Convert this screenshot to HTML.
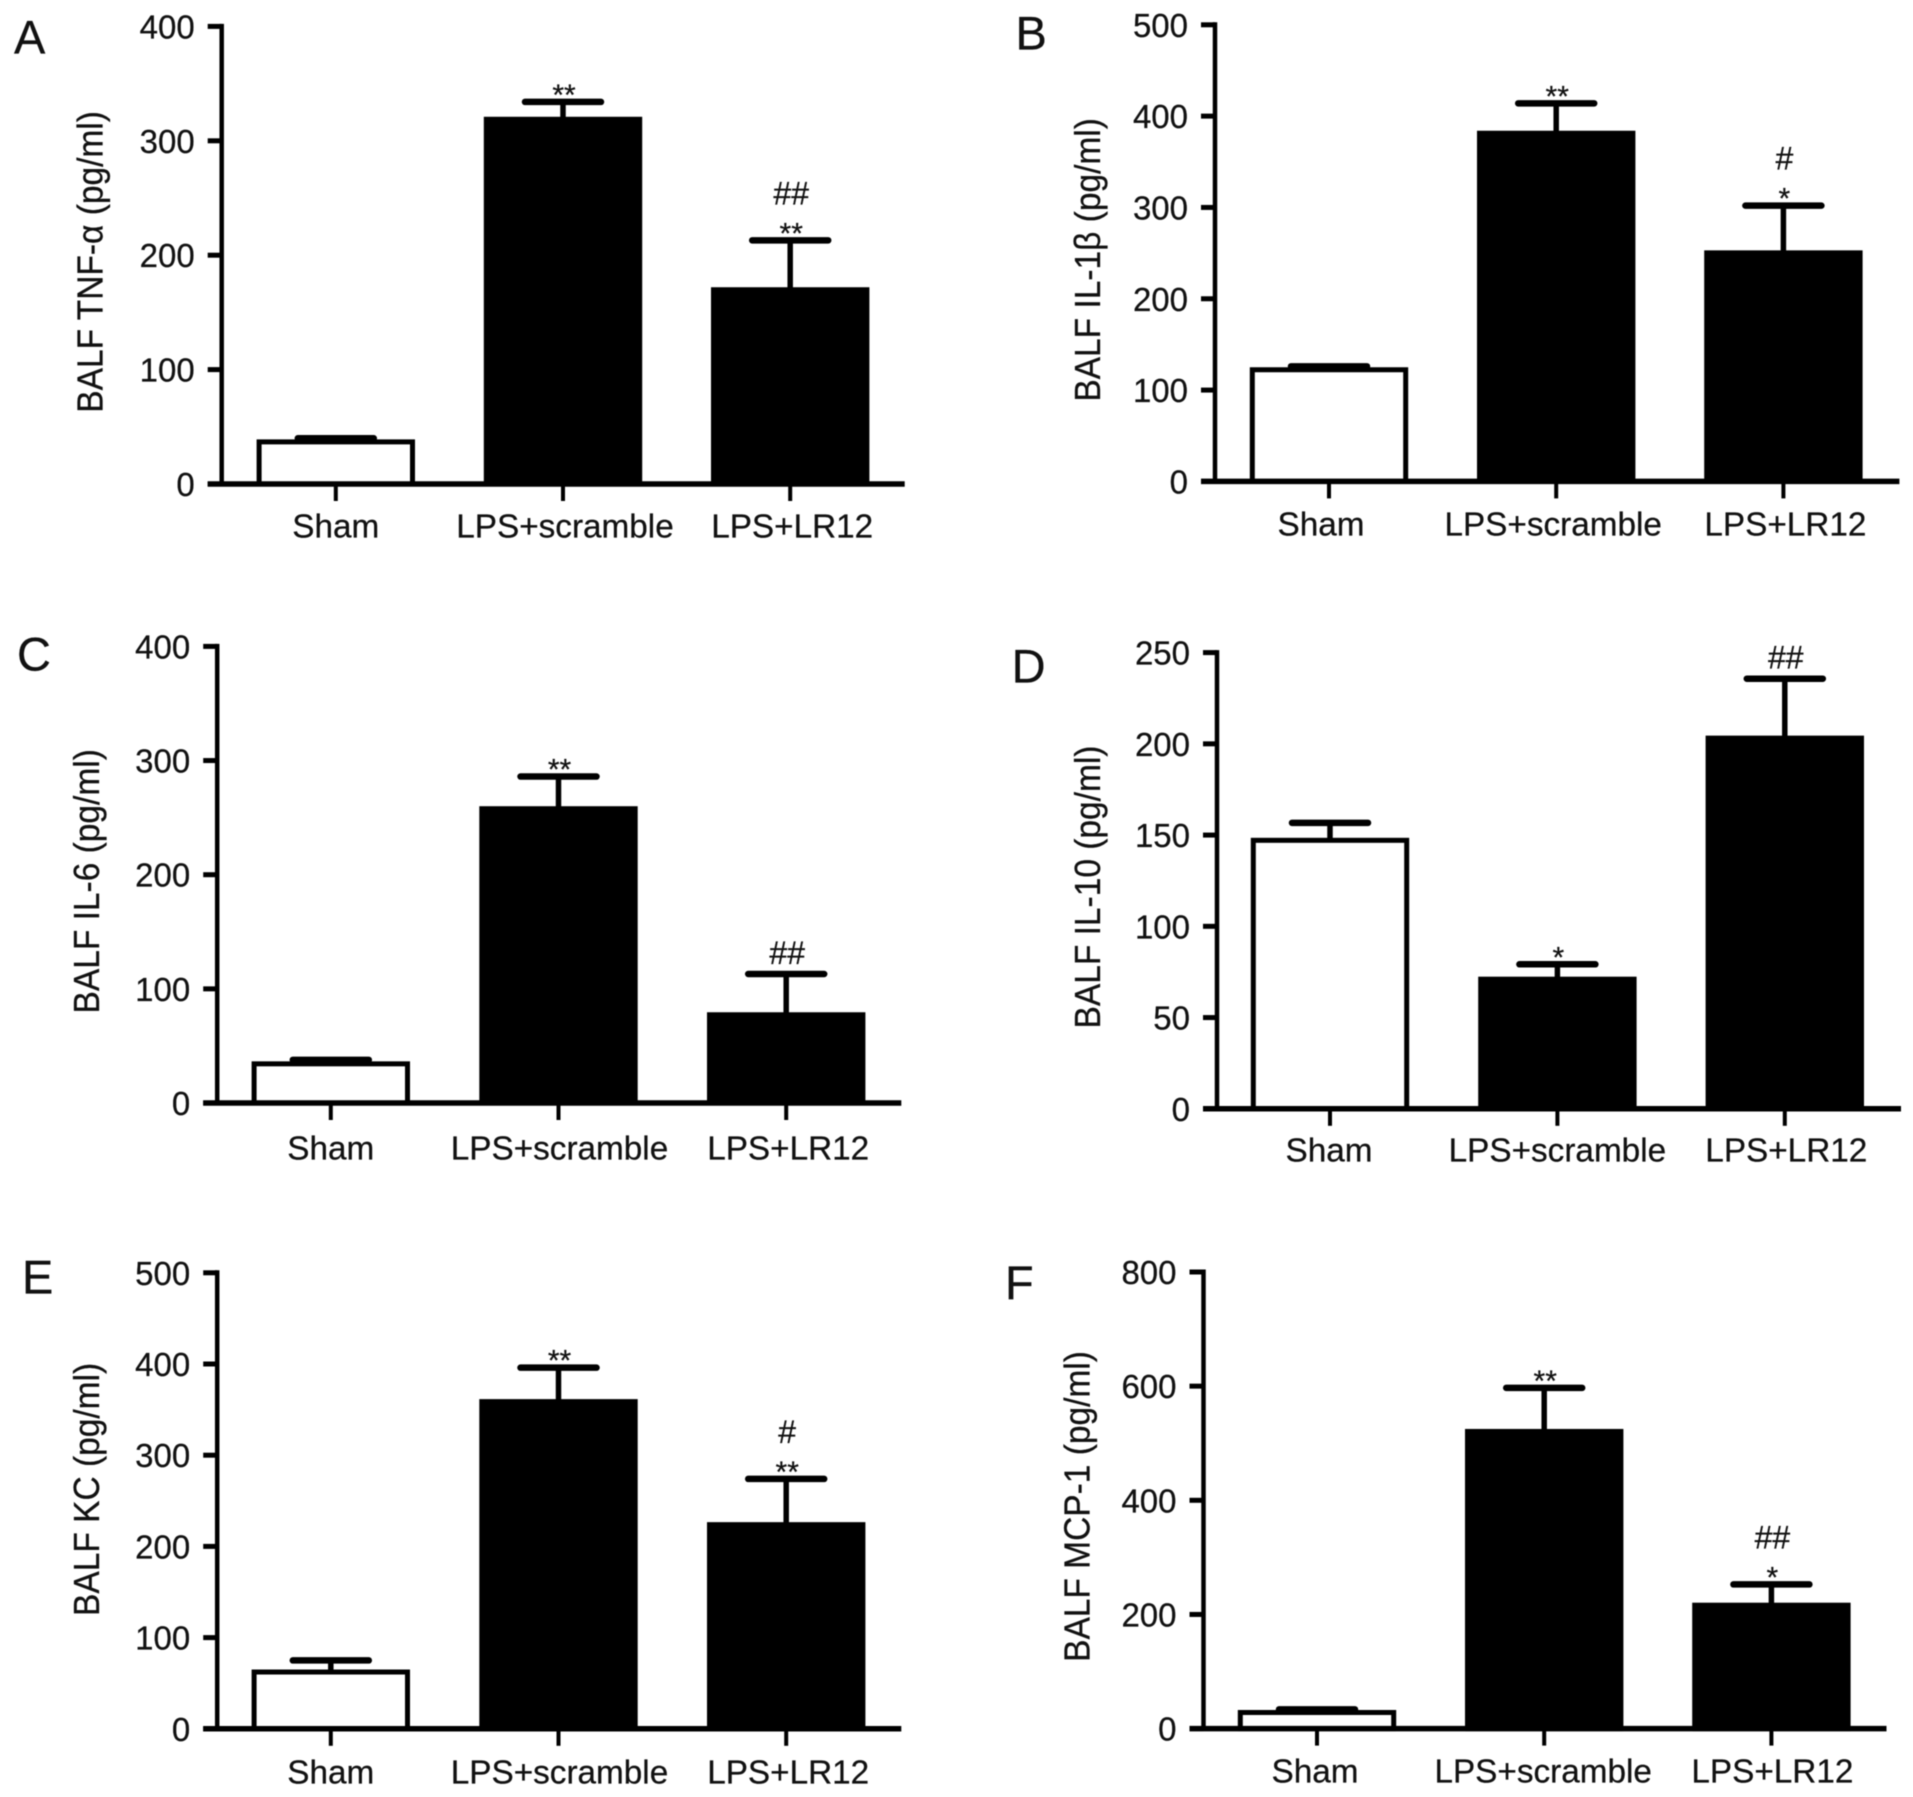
<!DOCTYPE html>
<html lang="en">
<head>
<meta charset="utf-8">
<title>BALF cytokine levels</title>
<style>
  html, body { margin: 0; padding: 0; background: #fff; }
  svg { display: block; filter: blur(0.45px); }
  text { font-family: "Liberation Sans", Arial, sans-serif; fill: #111; stroke: #111; stroke-width: 0.25px; }
</style>
</head>
<body>
<svg id="figure" xmlns="http://www.w3.org/2000/svg" width="1913" height="1797" viewBox="0 0 1913 1797"></svg>
<script>
const categories = ['Sham', 'LPS+scramble', 'LPS+LR12'];

const tnfTicks = [0, 100, 200, 300, 400];
const tnfValues = [39, 321, 172];
const tnfErrors = [1, 13, 41];
const tnfStars = ['', '**', '**'];
const tnfHashes = ['', '', '##'];

const il1Ticks = [0, 100, 200, 300, 400, 500];
const il1Values = [125, 384, 253];
const il1Errors = [1, 30, 49];
const il1Stars = ['', '**', '*'];
const il1Hashes = ['', '', '#'];

const il6Ticks = [0, 100, 200, 300, 400];
const il6Values = [36.5, 260, 79.5];
const il6Errors = [1.3, 26, 33.5];
const il6Stars = ['', '**', ''];
const il6Hashes = ['', '', '##'];

const il10Ticks = [0, 50, 100, 150, 200, 250];
const il10Values = [148.5, 72.4, 204.5];
const il10Errors = [8.2, 6.8, 31.2];
const il10Stars = ['', '*', ''];
const il10Hashes = ['', '', '##'];

const kcTicks = [0, 100, 200, 300, 400, 500];
const kcValues = [65, 361.5, 226.6];
const kcErrors = [10, 34.5, 47.4];
const kcStars = ['', '**', '**'];
const kcHashes = ['', '', '#'];

const mcpTicks = [0, 200, 400, 600, 800];
const mcpValues = [32.6, 525, 220.6];
const mcpErrors = [1, 72, 32];
const mcpStars = ['', '**', '*'];
const mcpHashes = ['', '', '##'];

const SVG_NS = 'http://www.w3.org/2000/svg';
const figure = document.getElementById('figure');

function make(parent, tag, attrs, content) {
  const el = document.createElementNS(SVG_NS, tag);
  for (const key in attrs) el.setAttribute(key, attrs[key]);
  if (content !== undefined) el.textContent = content;
  parent.appendChild(el);
  return el;
}

function renderPanel(p) {
  const group = make(figure, 'g', {});
  
  

  const maxTick = p.ticks[p.ticks.length - 1];
  const yScale = v => p.yZero - (v / maxTick) * (p.yZero - p.yTop);
  const xScale = i => p.xFirst + i * p.xStep;

  const letter = make(group, 'text', { x: p.letterX, y: p.letterY, 'font-size': 47 }, p.id.toUpperCase());
  
  

  const yLabel = make(group, 'text', {
    x: 0, y: 0, 'font-size': 33.5, 'text-anchor': 'middle',
    transform: 'translate(' + p.titleX + ' ' + p.titleY + ') rotate(-90) scale(1 1.08)'
  }, p.title);
  
  

  categories.forEach((cat, i) => {
    const cx = xScale(i);
    const left = cx - 79.2;
    const top = yScale(p.values[i]);
    const bottom = yScale(0);
    const capY = yScale(p.values[i] + p.errors[i]);

    const stem = make(group, 'line', { x1: cx, x2: cx, y1: capY, y2: top + 4, stroke: '#000', 'stroke-width': 5.5 });
    
    

    const cap = make(group, 'line', {
      x1: cx - 38, x2: cx + 38, y1: capY, y2: capY,
      stroke: '#000', 'stroke-width': 6.5, 'stroke-linecap': 'round'
    });
    
    

    const bar = make(group, 'rect', {
      x: left + 2.5, y: top + 2.5, width: 153.4, height: Math.max(0, bottom - top - 2.5),
      fill: i === 0 ? '#fff' : '#000', stroke: '#000', 'stroke-width': 5
    });
    
    

    if (p.stars[i]) {
      const star = make(group, 'text', { x: cx + 1, y: capY - 15 + 18, 'font-size': 30, 'text-anchor': 'middle' }, p.stars[i]);
      
      
    }
    if (p.hashes[i]) {
      const gap = p.stars[i] ? 48 : 22;
      const hash = make(group, 'text', { x: cx + 1, y: capY - gap + 12, 'font-size': 32, 'text-anchor': 'middle' }, p.hashes[i]);
      
      
    }

    const xTick = make(group, 'line', { x1: cx, x2: cx, y1: bottom, y2: bottom + 17, stroke: '#000', 'stroke-width': 4 });
    
    

    const xLabel = make(group, 'text', {
      x: cx + p.labelShift[i], y: p.labelY, 'font-size': 33.3, 'text-anchor': 'middle'
    }, cat);
    
    
  });

  p.ticks.forEach((t, i) => {
    const y = yScale(t);
    const tick = make(group, 'line', { x1: p.yAxisX - 14, x2: p.yAxisX, y1: y, y2: y, stroke: '#000', 'stroke-width': 5 });
    
    

    const label = make(group, 'text', { x: p.yAxisX - 27, y: y + 12, 'font-size': 33, 'text-anchor': 'end' }, String(t));
    
    
  });

  const yAxis = make(group, 'line', { x1: p.yAxisX, x2: p.yAxisX, y1: p.yTop - 2.5, y2: p.yZero, stroke: '#000', 'stroke-width': 4.5 });
  
  

  const xAxis = make(group, 'line', { x1: p.yAxisX - 14, x2: p.xAxisEnd, y1: p.yZero, y2: p.yZero, stroke: '#000', 'stroke-width': 5.5 });
  
  
}

renderPanel({ id: 'a', title: 'BALF TNF-\u03B1 (pg/ml)', ticks: tnfTicks, values: tnfValues, errors: tnfErrors, stars: tnfStars, hashes: tnfHashes,
  yAxisX: 221.7, yTop: 26.4, yZero: 484, xFirst: 335.8, xStep: 227.2, xAxisEnd: 904.7, labelY: 537.7, labelShift: [0, 2, 2],
  titleX: 102.5, titleY: 261.9, letterX: 14, letterY: 53.6 });
renderPanel({ id: 'b', title: 'BALF IL-1\u03B2 (pg/ml)', ticks: il1Ticks, values: il1Values, errors: il1Errors, stars: il1Stars, hashes: il1Hashes,
  yAxisX: 1215, yTop: 24.8, yZero: 481.4, xFirst: 1329, xStep: 227.2, xAxisEnd: 1899.4, labelY: 535.7, labelShift: [-8, -3, 2],
  titleX: 1100, titleY: 259.9, letterX: 1015.5, letterY: 49.6 });
renderPanel({ id: 'c', title: 'BALF IL-6 (pg/ml)', ticks: il6Ticks, values: il6Values, errors: il6Errors, stars: il6Stars, hashes: il6Hashes,
  yAxisX: 217.2, yTop: 646.4, yZero: 1103, xFirst: 330.8, xStep: 227.7, xAxisEnd: 901.3, labelY: 1159.5, labelShift: [0, 1, 2],
  titleX: 99, titleY: 881.3, letterX: 17, letterY: 670.5 });
renderPanel({ id: 'd', title: 'BALF IL-10 (pg/ml)', ticks: il10Ticks, values: il10Values, errors: il10Errors, stars: il10Stars, hashes: il10Hashes,
  yAxisX: 1217, yTop: 652.6, yZero: 1108.8, xFirst: 1330, xStep: 227.4, xAxisEnd: 1901, labelY: 1161.5, labelShift: [-1, 0, 1.5],
  titleX: 1100, titleY: 887, letterX: 1011.6, letterY: 682.3 });
renderPanel({ id: 'e', title: 'BALF KC (pg/ml)', ticks: kcTicks, values: kcValues, errors: kcErrors, stars: kcStars, hashes: kcHashes,
  yAxisX: 217.2, yTop: 1272.8, yZero: 1728.8, xFirst: 330.8, xStep: 227.7, xAxisEnd: 901.3, labelY: 1783.3, labelShift: [0, 1, 2],
  titleX: 99, titleY: 1489.4, letterX: 22, letterY: 1293.6 });
renderPanel({ id: 'f', title: 'BALF MCP-1 (pg/ml)', ticks: mcpTicks, values: mcpValues, errors: mcpErrors, stars: mcpStars, hashes: mcpHashes,
  yAxisX: 1203.5, yTop: 1272, yZero: 1728.6, xFirst: 1317, xStep: 227.2, xAxisEnd: 1886.5, labelY: 1782.3, labelShift: [-2, -1, 1],
  titleX: 1089.5, titleY: 1506.5, letterX: 1005, letterY: 1299 });
</script>
</body>
</html>
